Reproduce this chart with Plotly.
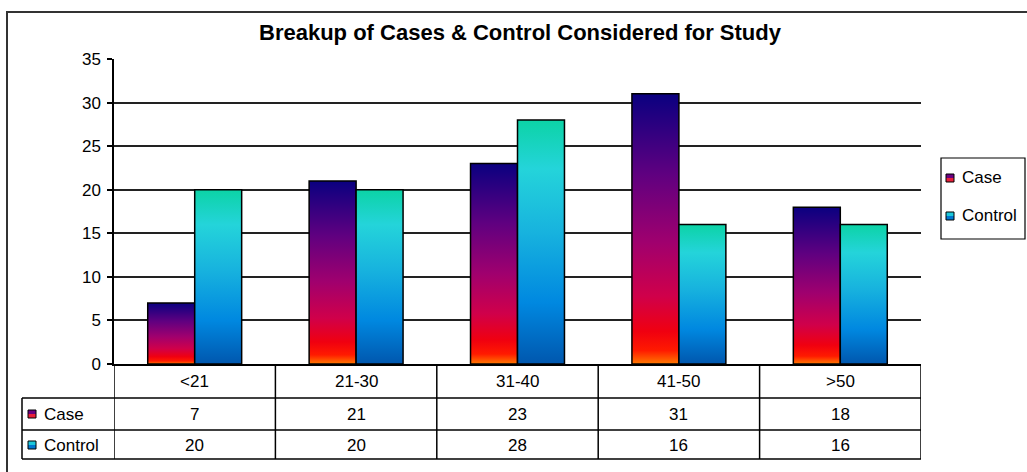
import plotly.graph_objects as go

# ---- data ----
categories = ["<21", "21-30", "31-40", "41-50", ">50"]
case_values = [7, 21, 23, 31, 18]
control_values = [20, 20, 28, 16, 16]
series_names = ["Case", "Control"]
y_ticks = [0, 5, 10, 15, 20, 25, 30, 35]
title_text = "Breakup of Cases & Control Considered for Study"

# ---- style ----
FONT = "Liberation Sans, Arial, sans-serif"
CASE_SCALE = [[0, "#FF7A00"], [0.05, "#FF1A00"], [0.12, "#F00010"], [0.25, "#D0004A"],
              [0.45, "#A0006E"], [0.70, "#600080"], [1, "#0A0080"]]
CTRL_SCALE = [[0, "#0057AE"], [0.25, "#0088E0"], [0.55, "#18B4DE"], [0.80, "#24D4DA"],
              [1, "#0CD3A6"]]
BW = 0.291  # bar width in category units

W, H = 1027, 472
L, R, T, B = 114, 921, 59, 364


def px_x(px):
    return (px - L) / (R - L)


def px_y(py):
    return (B - py) / (B - T)


fig = go.Figure()

for series_idx, (vals, scale) in enumerate([(case_values, CASE_SCALE), (control_values, CTRL_SCALE)]):
    for i, v in enumerate(vals):
        x0 = i - BW if series_idx == 0 else i
        x1 = x0 + BW
        fig.add_trace(go.Scatter(
            x=[x0, x0, x1, x1, x0], y=[0, v, v, 0, 0],
            mode="lines", fill="toself",
            fillgradient=dict(type="vertical", colorscale=scale, start=0, stop=v),
            line=dict(color="black", width=1.5),
            showlegend=False, hoverinfo="skip",
        ))

shapes = []
annotations = []
line_style = dict(color="black", width=1.5)

# table horizontal lines
for py in [398, 430, 459]:
    shapes.append(dict(type="line", xref="paper", yref="paper",
                       x0=px_x(22), x1=px_x(R), y0=px_y(py), y1=px_y(py), line=line_style))
# table verticals at category boundaries
for k in range(len(categories) + 1):
    shapes.append(dict(type="line", xref="x", yref="paper",
                       x0=k - 0.5, x1=k - 0.5, y0=px_y(B), y1=px_y(459), line=line_style))
# left border of row labels
shapes.append(dict(type="line", xref="paper", yref="paper",
                   x0=px_x(22), x1=px_x(22), y0=px_y(398), y1=px_y(459), line=line_style))

tfont = dict(family=FONT, size=17, color="black")
for i, cat in enumerate(categories):
    annotations.append(dict(x=i, y=px_y(381), xref="x", yref="paper", text=cat,
                            showarrow=False, font=tfont, xanchor="center", yanchor="middle"))
    annotations.append(dict(x=i, y=px_y(414), xref="x", yref="paper", text=str(case_values[i]),
                            showarrow=False, font=tfont, xanchor="center", yanchor="middle"))
    annotations.append(dict(x=i, y=px_y(445), xref="x", yref="paper", text=str(control_values[i]),
                            showarrow=False, font=tfont, xanchor="center", yanchor="middle"))


def key(px0, py0, top, bottom):
    shapes.append(dict(type="rect", xref="paper", yref="paper",
                       x0=px_x(px0), x1=px_x(px0 + 8), y0=px_y(py0 + 4), y1=px_y(py0),
                       fillcolor=top, line=dict(width=0)))
    shapes.append(dict(type="rect", xref="paper", yref="paper",
                       x0=px_x(px0), x1=px_x(px0 + 8), y0=px_y(py0 + 8), y1=px_y(py0 + 4),
                       fillcolor=bottom, line=dict(width=0)))
    shapes.append(dict(type="rect", xref="paper", yref="paper",
                       x0=px_x(px0), x1=px_x(px0 + 8), y0=px_y(py0 + 8), y1=px_y(py0),
                       line=dict(color="black", width=1)))


key_colors = [("#6A0080", "#E8203A"), ("#1CC8DC", "#0078D0")]

# row labels in table
for j, (name, py) in enumerate(zip(series_names, [414, 445])):
    key(28, py - 4, *key_colors[j])
    annotations.append(dict(x=px_x(42), y=px_y(py), xref="paper", yref="paper", text=name,
                            showarrow=False, font=tfont, xanchor="left", yanchor="middle"))

# legend box
shapes.append(dict(type="rect", xref="paper", yref="paper",
                   x0=px_x(941), x1=px_x(1025), y0=px_y(239), y1=px_y(158),
                   line=dict(color="black", width=1.2)))
for j, (name, py) in enumerate(zip(series_names, [177, 215])):
    key(946, py - 3, *key_colors[j])
    annotations.append(dict(x=px_x(960), y=px_y(py), xref="paper", yref="paper", text=name,
                            showarrow=False, font=tfont, xanchor="left", yanchor="middle"))

# outer chart border
shapes.append(dict(type="rect", xref="paper", yref="paper",
                   x0=px_x(7), x1=px_x(1040), y0=px_y(490), y1=px_y(12),
                   line=dict(color="#333333", width=2)))

fig.update_layout(
    width=W, height=H,
    margin=dict(l=L, r=W - R, t=T, b=H - B, pad=0),
    paper_bgcolor="white", plot_bgcolor="white",
    title=dict(text="<b>" + title_text + "</b>", x=520 / W, xanchor="center",
               y=1 - 32 / H, yanchor="middle", xref="container", yref="container",
               font=dict(family=FONT, size=22, color="black")),
    xaxis=dict(range=[-0.5, len(categories) - 0.5], showticklabels=False, showgrid=False,
               zeroline=False, showline=True, linecolor="black", linewidth=1.5, ticks=""),
    yaxis=dict(range=[0, 35], tickvals=y_ticks, ticks="outside", ticklen=5, tickcolor="black",
               tickwidth=1.5, showgrid=True, gridcolor="#222222", gridwidth=1.5,
               showline=True, linecolor="black", linewidth=1.5, zeroline=False,
               ticklabelstandoff=3,
               tickfont=dict(family=FONT, size=17, color="black")),
    shapes=shapes, annotations=annotations,
    showlegend=False,
)

fig.write_html("out.html", config={"displayModeBar": False},
               post_script="document.body.style.margin='0';document.body.style.overflow='hidden';")
